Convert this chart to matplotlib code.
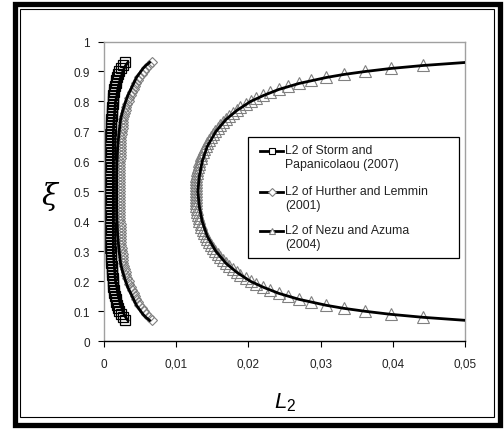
import matplotlib
matplotlib.use("Agg")
import matplotlib.pyplot as plt
from matplotlib.lines import Line2D
from matplotlib.patches import Rectangle

# ---------------- data ----------------
xi_markers = [0.07, 0.08, 0.09, 0.10, 0.11, 0.12, 0.13, 0.14, 0.15, 0.16,
              0.17, 0.18, 0.19, 0.20, 0.21, 0.22, 0.23, 0.24, 0.25, 0.26,
              0.27, 0.28, 0.29, 0.30, 0.31, 0.32, 0.33, 0.34, 0.35, 0.36,
              0.37, 0.38, 0.39, 0.40, 0.41, 0.42, 0.43, 0.44, 0.45, 0.46,
              0.47, 0.48, 0.49, 0.50, 0.51, 0.52, 0.53, 0.54, 0.55, 0.56,
              0.57, 0.58, 0.59, 0.60, 0.61, 0.62, 0.63, 0.64, 0.65, 0.66,
              0.67, 0.68, 0.69, 0.70, 0.71, 0.72, 0.73, 0.74, 0.75, 0.76,
              0.77, 0.78, 0.79, 0.80, 0.81, 0.82, 0.83, 0.84, 0.85, 0.86,
              0.87, 0.88, 0.89, 0.90, 0.91, 0.92, 0.93]

storm_markers = [0.0029, 0.0026, 0.0023, 0.0021, 0.0019, 0.0018, 0.0017, 0.0016, 0.0015, 0.0014,
                 0.0014, 0.0013, 0.0013, 0.0012, 0.0012, 0.0011, 0.0011, 0.0011, 0.0011, 0.0010,
                 0.0010, 0.0010, 0.0010, 0.0010, 0.0009, 0.0010, 0.0009, 0.0009, 0.0009, 0.0009,
                 0.0010, 0.0009, 0.0009, 0.0009, 0.0009, 0.0010, 0.0009, 0.0009, 0.0009, 0.0009,
                 0.0010, 0.0009, 0.0009, 0.0009, 0.0009, 0.0009, 0.0010, 0.0009, 0.0009, 0.0009,
                 0.0009, 0.0010, 0.0009, 0.0009, 0.0009, 0.0009, 0.0010, 0.0009, 0.0009, 0.0009,
                 0.0009, 0.0010, 0.0009, 0.0010, 0.0010, 0.0010, 0.0010, 0.0010, 0.0011, 0.0011,
                 0.0011, 0.0011, 0.0012, 0.0012, 0.0013, 0.0013, 0.0014, 0.0014, 0.0015, 0.0016,
                 0.0017, 0.0018, 0.0019, 0.0021, 0.0023, 0.0026, 0.0029]

hurther_markers = [0.0066, 0.0062, 0.0058, 0.0055, 0.0052, 0.0049, 0.0047, 0.0045, 0.0043, 0.0041,
                   0.0039, 0.0037, 0.0035, 0.0034, 0.0032, 0.0031, 0.0030, 0.0029, 0.0028, 0.0027,
                   0.0027, 0.0026, 0.0026, 0.0025, 0.0025, 0.0024, 0.0024, 0.0024, 0.0023, 0.0023,
                   0.0023, 0.0023, 0.0023, 0.0022, 0.0022, 0.0022, 0.0022, 0.0022, 0.0022, 0.0022,
                   0.0022, 0.0022, 0.0022, 0.0022, 0.0022, 0.0022, 0.0022, 0.0022, 0.0022, 0.0022,
                   0.0022, 0.0022, 0.0022, 0.0022, 0.0023, 0.0023, 0.0023, 0.0023, 0.0023, 0.0024,
                   0.0024, 0.0024, 0.0025, 0.0025, 0.0026, 0.0026, 0.0027, 0.0027, 0.0028, 0.0029,
                   0.0030, 0.0031, 0.0032, 0.0034, 0.0035, 0.0037, 0.0039, 0.0041, 0.0043, 0.0045,
                   0.0047, 0.0049, 0.0052, 0.0055, 0.0058, 0.0062, 0.0066]

xi_nezu_markers = [0.08, 0.09, 0.10, 0.11, 0.12, 0.13, 0.14, 0.15, 0.16,
                   0.17, 0.18, 0.19, 0.20, 0.21, 0.22, 0.23, 0.24, 0.25, 0.26,
                   0.27, 0.28, 0.29, 0.30, 0.31, 0.32, 0.33, 0.34, 0.35, 0.36,
                   0.37, 0.38, 0.39, 0.40, 0.41, 0.42, 0.43, 0.44, 0.45, 0.46,
                   0.47, 0.48, 0.49, 0.50, 0.51, 0.52, 0.53, 0.54, 0.55, 0.56,
                   0.57, 0.58, 0.59, 0.60, 0.61, 0.62, 0.63, 0.64, 0.65, 0.66,
                   0.67, 0.68, 0.69, 0.70, 0.71, 0.72, 0.73, 0.74, 0.75, 0.76,
                   0.77, 0.78, 0.79, 0.80, 0.81, 0.82, 0.83, 0.84, 0.85, 0.86,
                   0.87, 0.88, 0.89, 0.90, 0.91, 0.92]

nezu_markers = [0.0442, 0.0397, 0.0361, 0.0332, 0.0308, 0.0287, 0.0270, 0.0255, 0.0242,
                0.0230, 0.0220, 0.0211, 0.0203, 0.0196, 0.0189, 0.0184, 0.0178, 0.0173, 0.0169,
                0.0165, 0.0161, 0.0158, 0.0154, 0.0151, 0.0148, 0.0145, 0.0143, 0.0141, 0.0139,
                0.0137, 0.0135, 0.0134, 0.0132, 0.0131, 0.0130, 0.0129, 0.0129, 0.0128, 0.0128,
                0.0127, 0.0127, 0.0127, 0.0127, 0.0127, 0.0127, 0.0127, 0.0128, 0.0128, 0.0129,
                0.0129, 0.0130, 0.0131, 0.0132, 0.0134, 0.0135, 0.0137, 0.0139, 0.0141, 0.0143,
                0.0145, 0.0148, 0.0151, 0.0154, 0.0158, 0.0161, 0.0165, 0.0169, 0.0173, 0.0178,
                0.0184, 0.0189, 0.0196, 0.0203, 0.0211, 0.0220, 0.0230, 0.0242, 0.0255, 0.0270,
                0.0287, 0.0308, 0.0332, 0.0361, 0.0397, 0.0442]

xi_lines = [0.07, 0.08, 0.09, 0.10, 0.11, 0.12, 0.14, 0.16, 0.18, 0.20, 0.23, 0.26,
            0.30, 0.35, 0.40, 0.45, 0.50, 0.55, 0.60, 0.65, 0.70, 0.74, 0.77, 0.80,
            0.82, 0.84, 0.86, 0.88, 0.89, 0.90, 0.91, 0.92, 0.93]

storm_line = [0.0033, 0.0030, 0.0028, 0.0026, 0.0025, 0.0023, 0.0021, 0.0019, 0.0018, 0.0016, 0.0015, 0.0014,
              0.0013, 0.0013, 0.0013, 0.0013, 0.0013, 0.0013, 0.0013, 0.0013, 0.0013, 0.0014, 0.0015, 0.0016,
              0.0018, 0.0019, 0.0021, 0.0023, 0.0025, 0.0026, 0.0028, 0.0030, 0.0033]

hurther_line = [0.0063, 0.0058, 0.0054, 0.0051, 0.0048, 0.0045, 0.0041, 0.0037, 0.0033, 0.0030, 0.0026, 0.0023,
                0.0021, 0.0019, 0.0018, 0.00175, 0.00175, 0.00175, 0.0018, 0.0019, 0.0021, 0.0023, 0.0026, 0.0030,
                0.0033, 0.0037, 0.0041, 0.0045, 0.0048, 0.0051, 0.0054, 0.0058, 0.0063]

nezu_line = [0.0500, 0.0442, 0.0397, 0.0362, 0.0332, 0.0308, 0.0270, 0.0242, 0.0221, 0.0203, 0.0184, 0.0169,
             0.0155, 0.0143, 0.0136, 0.0132, 0.0130, 0.0132, 0.0136, 0.0143, 0.0155, 0.0169, 0.0184, 0.0203,
             0.0221, 0.0242, 0.0270, 0.0308, 0.0332, 0.0362, 0.0397, 0.0442, 0.0500]

labels = ["L2 of Storm and\nPapanicolaou (2007)",
          "L2 of Hurther and Lemmin\n(2001)",
          "L2 of Nezu and Azuma\n(2004)"]

x_ticks = [0, 0.01, 0.02, 0.03, 0.04, 0.05]
x_tick_labels = ["0", "0,01", "0,02", "0,03", "0,04", "0,05"]
y_ticks = [0, 0.1, 0.2, 0.3, 0.4, 0.5, 0.6, 0.7, 0.8, 0.9, 1.0]
y_tick_labels = ["0", "0.1", "0.2", "0.3", "0.4", "0.5", "0.6", "0.7", "0.8", "0.9", "1"]

# ---------------- style ----------------
plt.rcParams['font.family'] = ['Liberation Sans', 'DejaVu Sans']
plt.rcParams['mathtext.fontset'] = 'custom'
plt.rcParams['mathtext.it'] = 'Liberation Sans:italic'
plt.rcParams['mathtext.rm'] = 'Liberation Sans'

W, H = 504, 431
fig = plt.figure(figsize=(W / 100, H / 100), dpi=100)
fig.patch.set_facecolor('white')


def fx(px):
    return px / W


def fy(py):
    return 1 - py / H


ax = fig.add_axes([fx(104), fy(342.3), fx(465) - fx(104), fy(42.5) - fy(342.3)])

GRAY = '#808080'
ms_kw = dict(linestyle='none', markerfacecolor='none')
ax.plot(storm_markers, xi_markers, marker='s', markersize=7.5, markeredgecolor='black',
        markeredgewidth=0.9, **ms_kw, zorder=2)
ax.plot(hurther_markers, xi_markers, marker='D', markersize=5.5, markeredgecolor=GRAY,
        markeredgewidth=0.8, **ms_kw, zorder=2)
ax.plot(nezu_markers, xi_nezu_markers, marker='^', markersize=8.5, markeredgecolor=GRAY,
        markeredgewidth=0.8, **ms_kw, zorder=2)

ax.plot(storm_line, xi_lines, color='black', lw=2.0, zorder=3)
ax.plot(hurther_line, xi_lines, color='black', lw=2.0, zorder=3)
ax.plot(nezu_line, xi_lines, color='black', lw=2.0, zorder=3)

ax.set_xlim(0, 0.05)
ax.set_ylim(0, 1)
ax.set_xticks(x_ticks)
ax.set_xticklabels(x_tick_labels)
ax.set_yticks(y_ticks)
ax.set_yticklabels(y_tick_labels)
ax.tick_params(axis='both', direction='out', length=4, width=0.8, labelsize=8.5,
               colors='black', pad=6)
ax.tick_params(axis='y', labelcolor='#222222')
ax.tick_params(axis='x', labelcolor='#222222', pad=8)
for side in ['top', 'right', 'left']:
    ax.spines[side].set_color('#a0a0a0')
    ax.spines[side].set_linewidth(1.0)
ax.spines['bottom'].set_color('black')
ax.spines['bottom'].set_linewidth(1.0)

# axis titles
fig.text(fx(50), fy(197), 'ξ', fontsize=21, family='DejaVu Serif', style='italic',
         ha='center', va='center')
fig.text(fx(285), fy(403), r'$L_2$', fontsize=16, ha='center', va='center')

# legend (manual, box with handles aligned to first text line)
fig.add_artist(Rectangle((fx(248), fy(259)), fx(459) - fx(248), fy(138) - fy(259),
                         transform=fig.transFigure, facecolor='white', edgecolor='black',
                         linewidth=0.9, zorder=5))
handle_specs = [
    dict(marker='s', markeredgecolor='black', markersize=5),
    dict(marker='D', markeredgecolor=GRAY, markersize=4),
    dict(marker='^', markeredgecolor=GRAY, markersize=5),
]
entry_y = [152, 193, 232]
for lab, spec, yy in zip(labels, handle_specs, entry_y):
    fig.add_artist(Line2D([fx(260), fx(283)], [fy(yy), fy(yy)], transform=fig.transFigure,
                          color='black', lw=2.0, zorder=6))
    fig.add_artist(Line2D([fx(271.5)], [fy(yy)], transform=fig.transFigure,
                          linestyle='none', markerfacecolor='white', markeredgewidth=0.8,
                          zorder=7, **spec))
    fig.text(fx(285), fy(yy - 7), lab, fontsize=8.8, ha='left', va='top',
             linespacing=1.25, zorder=8, color='#222222')

# outer double frame
fig.add_artist(Rectangle((fx(14.5), fy(425.5)), fx(500) - fx(14.5), fy(5) - fy(425.5),
                         transform=fig.transFigure, facecolor='none', edgecolor='black',
                         linewidth=3.8, zorder=10))
fig.add_artist(Rectangle((fx(19.5), fy(417.5)), fx(494) - fx(19.5), fy(9.5) - fy(417.5),
                         transform=fig.transFigure, facecolor='none', edgecolor='black',
                         linewidth=0.8, zorder=10))

fig.savefig('out.png', dpi=100)
